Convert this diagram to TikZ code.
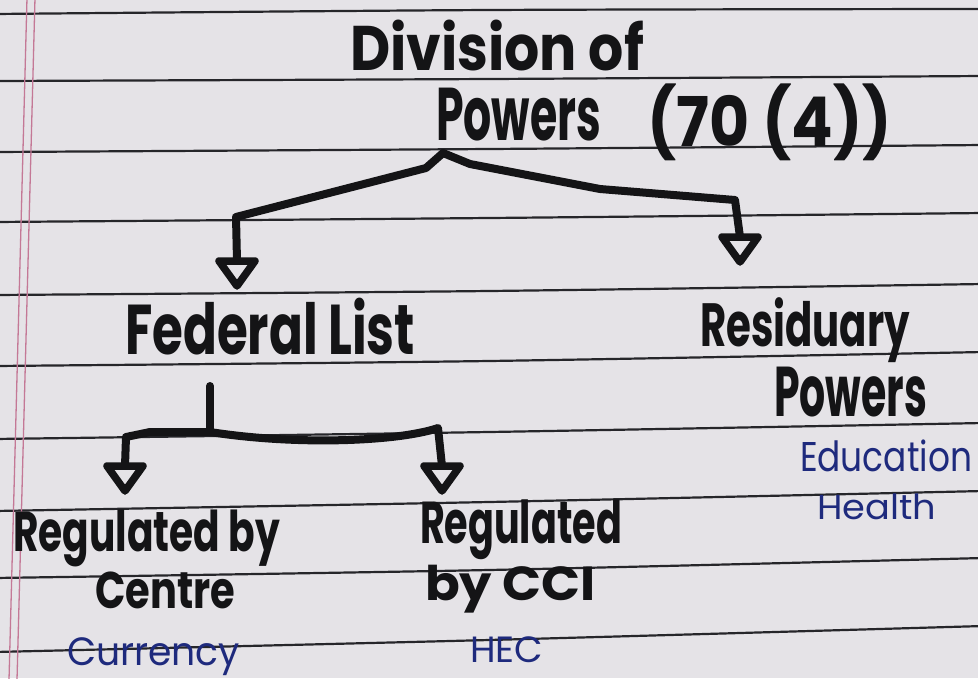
\documentclass[tikz,border=0pt]{standalone}
\usepackage{fontspec}
\usepackage{graphicx}
\setmainfont{Poppins}
\definecolor{paper}{RGB}{229,227,231}
\definecolor{rulec}{RGB}{38,38,42}
\definecolor{marginc}{RGB}{196,120,150}
\definecolor{ink}{RGB}{20,20,22}
\definecolor{blueink}{RGB}{30,42,125}
\newcommand{\fitt}[3]{\resizebox*{#1pt}{#2pt}{#3}}
\tikzset{
  hw/.style={inner sep=0pt, outer sep=0pt, anchor=south west, text=ink, font=\bfseries},
  bw/.style={inner sep=0pt, outer sep=0pt, anchor=south west, text=blueink, font=\mdseries},
  ruled/.style={draw=rulec, line width=2.2pt},
  marg/.style={draw=marginc, line width=1.3pt},
  conn/.style={draw=ink, line width=8pt, line join=round, line cap=round},
  tristyle/.style={draw=ink, fill=paper, line width=7.5pt, line join=round},
  arrowtri/.pic={\draw[tristyle] (-18,0) -- (18,0) -- (0,25) -- cycle;}
}
\begin{document}
\begin{tikzpicture}[x=1pt, y=-1pt]
  \fill[paper] (0,0) rectangle (978,678);
  \useasboundingbox (0,0) rectangle (978,678);
  % ruled lines
  \foreach \a/\b/\c in {14/10/9, 81/79/76, 152/149/145, 222/218/213, 295/291/284, 366/361/352, 439/432/423, 511/502/491, 578/570/558, 652/640/626}
    \draw[ruled] plot[smooth] coordinates {(-5,\a) (489,\b) (983,\c)};
  % margin lines
  \draw[marg] (27,-2) -- (9,680);
  \draw[marg] (35,-2) -- (17,680);
  % connectors
  \coordinate (j1) at (443,153);
  \coordinate (fedtop) at (237,261);
  \coordinate (restop) at (740,237);
  \coordinate (j2) at (210,386);
  \coordinate (j2b) at (210,432);
  \coordinate (ctop) at (125,466);
  \coordinate (qtop) at (442,466);
  \draw[conn] (j1) -- (426,168) -- (236,217) -- (fedtop);
  \draw[conn] (j1) -- (470,164) -- (600,189) -- (735,200) -- (restop);
  \draw[conn] (j2) -- (j2b);
  \draw[conn] (j2b) -- (150,432) -- (126,437) -- (ctop);
  \draw[conn] (j2b) .. controls (300,446) and (400,441) .. (438,428) -- (qtop);
  \pic at (fedtop) {arrowtri};
  \pic at (restop) {arrowtri};
  \pic at (ctop) {arrowtri};
  \pic at (qtop) {arrowtri};
  % texts
  \node[hw] (t1) at (350,71) {\fitt{294}{51}{Division of}};
  \node[hw] (t2) at (436,141) {\fitt{165}{53}{Powers}};
  \node[hw] (t3) at (647,161) {\fitt{245}{77}{(70 (4))}};
  \node[hw] (fed) at (125,355) {\fitt{290}{57}{Federal List}};
  \node[hw] (res1) at (700,363) {\fitt{210}{65}{Residuary}};
  \node[hw] (res2) at (774,417) {\fitt{153}{50}{Powers}};
  \node[bw] (edu) at (800,472) {\fitt{172}{32}{Education}};
  \node[bw] (hea) at (817,520) {\fitt{119}{26}{Health}};
  \node[hw] (rc1) at (13,567) {\fitt{267}{57}{Regulated by}};
  \node[hw] (rc2) at (95,609) {\fitt{140}{37}{Centre}};
  \node[bw] (cur) at (67,676) {\fitt{173}{38}{Currency}};
  \node[hw] (rq1) at (420,560) {\fitt{202}{60}{Regulated}};
  \node[hw] (rq2) at (425,613) {\fitt{171}{48}{by CCI}};
  \node[bw] (hec) at (470,663) {\fitt{73}{26}{HEC}};
\end{tikzpicture}
\end{document}
